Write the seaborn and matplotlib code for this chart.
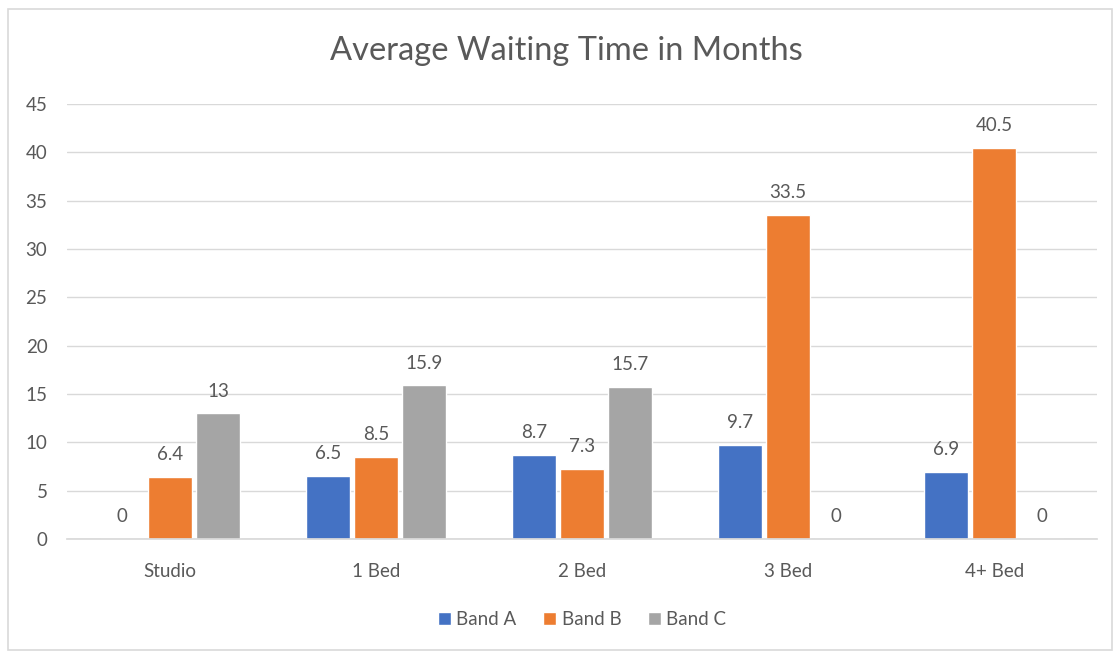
import matplotlib
matplotlib.use("Agg")
import matplotlib.pyplot as plt
import matplotlib.patches as mpatches
import pandas as pd
import seaborn as sns

# data
CATEGORIES = ["Studio", "1 Bed", "2 Bed", "3 Bed", "4+ Bed"]
BANDS = ["Band A", "Band B", "Band C"]
BAND_A = [0, 6.5, 8.7, 9.7, 6.9]
BAND_B = [6.4, 8.5, 7.3, 33.5, 40.5]
BAND_C = [13, 15.9, 15.7, 0, 0]

COLOURS = ["#4472C4", "#ED7D31", "#A5A5A5"]
TEXT = "#595959"

df = pd.DataFrame({"category": CATEGORIES * 3,
                   "band": [b for b in BANDS for _ in CATEGORIES],
                   "value": BAND_A + BAND_B + BAND_C})

sns.set_theme(style="white")
plt.rcParams["font.family"] = ["Lato", "DejaVu Sans"]

fig = plt.figure(figsize=(11.15, 6.55), dpi=100)
ax = fig.add_axes([0.060, 0.177, 0.924, 0.664])

sns.barplot(data=df, x="category", y="value", hue="band", order=CATEGORIES,
            hue_order=BANDS, palette=COLOURS, width=0.7, gap=0.08,
            saturation=1, ax=ax, legend=True)

for cont in ax.containers:
    ax.bar_label(cont, fmt="{:g}", padding=10, fontsize=13.5, color=TEXT)

ax.set_ylim(0, 45)
ax.set_yticks(range(0, 46, 5))
ax.yaxis.grid(True, color="#D9D9D9", linewidth=1)
ax.set_axisbelow(True)
for side in ["top", "right", "left"]:
    ax.spines[side].set_visible(False)
ax.spines["bottom"].set_color("#D9D9D9")
ax.tick_params(axis="both", length=0, labelsize=13.5, labelcolor=TEXT)
ax.tick_params(axis="x", pad=17)
ax.tick_params(axis="y", pad=14)
ax.set_xlabel("")
ax.set_ylabel("")

leg = ax.legend(loc="center", bbox_to_anchor=(0.5, -0.186), ncol=3,
                frameon=False, fontsize=13.5, handlelength=0.7,
                handleheight=0.7, handletextpad=0.3, columnspacing=1.4)
for t in leg.get_texts():
    t.set_color(TEXT)

fig.text(0.508, 0.922, "Average Waiting Time in Months", ha="center",
         va="center", fontsize=23.5, color=TEXT)

fig.patches.append(mpatches.Rectangle((0.007, 0.008), 0.99, 0.978,
                                      transform=fig.transFigure, fill=False,
                                      edgecolor="#D9D9D9", linewidth=1.2))

fig.savefig("out.png", dpi=100)
